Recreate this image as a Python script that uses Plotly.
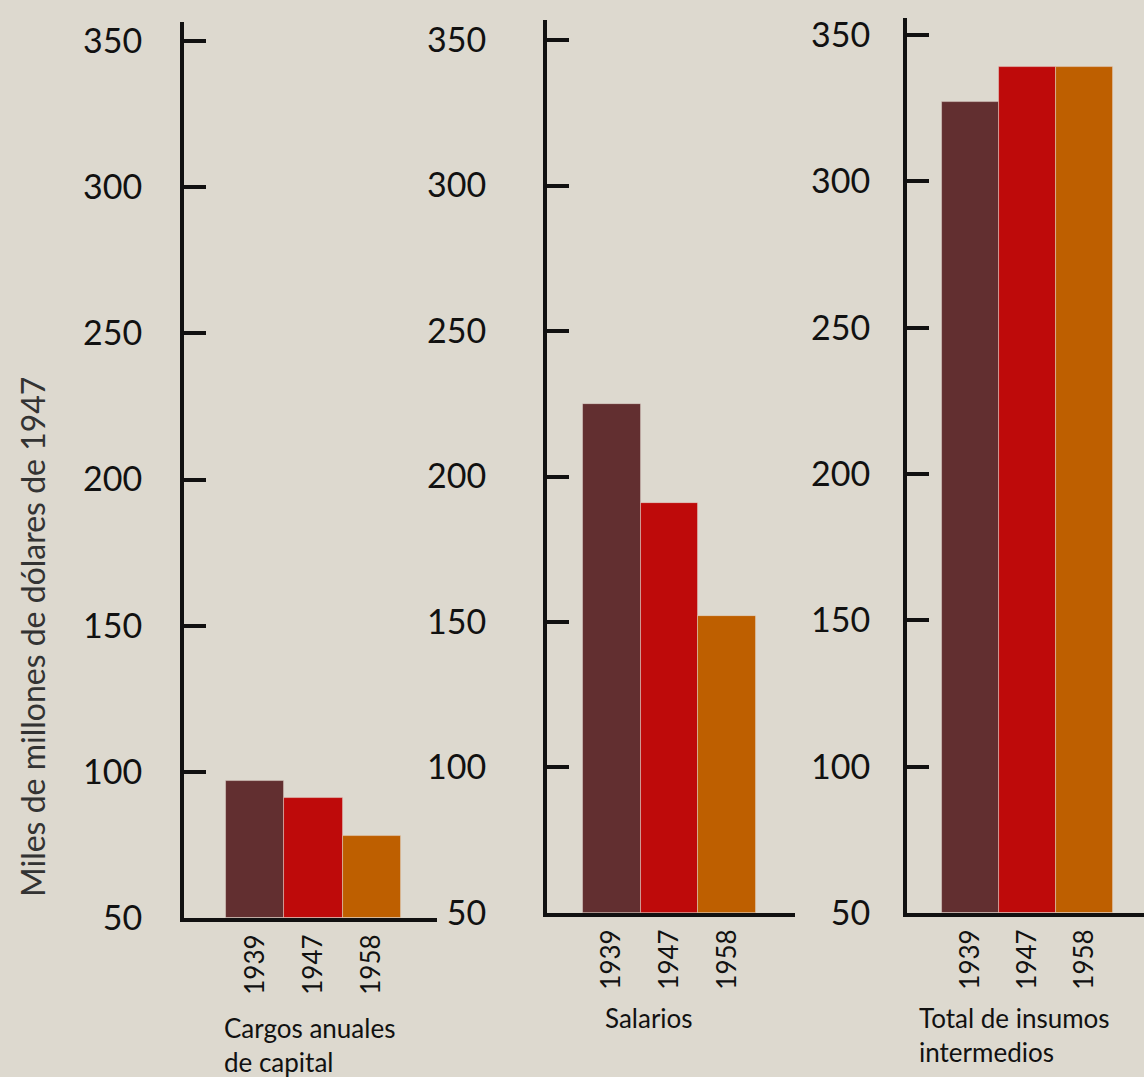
import plotly.graph_objects as go

years = ["1939", "1947", "1958"]
cargos = [97, 91, 78]
salarios = [225, 191, 152]
insumos = [327, 339, 339]
bar_colors = ["#622F30", "#BE0A0A", "#BE5F00"]
tick_vals = [50, 100, 150, 200, 250, 300, 350]
panel_titles = ["Cargos anuales<br>de capital", "Salarios", "Total de insumos<br>intermedios"]
y_title = "Miles de millones de dólares de 1947"

FONT = "Lato"
BG = "#DDD9CF"
INK = "#111111"

fig = go.Figure()

series = [cargos, salarios, insumos]
x_domains = [[0.1608, 0.382], [0.4781, 0.6949], [0.7928, 1.0]]
y_domains = [[0.1476, 0.9796], [0.1523, 0.9814], [0.1523, 0.9833]]
x_ranges = [[-1.22, 3.12], [-1.124, 3.176], [-1.114, 3.044]]
y_ranges = [[50, 356.5], [50, 356.9], [50, 355.8]]
standoffs = [31, 50, 26]

for i, vals in enumerate(series):
    n = "" if i == 0 else str(i + 1)
    fig.add_trace(go.Bar(
        x=years, y=[v - 50 for v in vals], base=50,
        marker=dict(color=bar_colors, line=dict(width=0.8, color="rgba(230,220,210,0.6)")),
        width=1.0,
        xaxis="x" + n, yaxis="y" + n, showlegend=False,
        hovertemplate="%{x}: %{y}<extra></extra>",
    ))
    fig.update_layout(**{
        "xaxis" + n: dict(
            domain=x_domains[i], anchor="y" + n, type="category",
            range=x_ranges[i], showline=True, linewidth=4, linecolor=INK,
            showgrid=False, zeroline=False, ticks="", tickangle=-90,
            tickfont=dict(family=FONT, size=26, color=INK),
            ticklabelstandoff=2, fixedrange=True, automargin=False,
        ),
        "yaxis" + n: dict(
            domain=y_domains[i], anchor="x" + n, range=y_ranges[i],
            tickvals=tick_vals, showline=True, linewidth=4, linecolor=INK,
            showgrid=False, zeroline=False, ticks="inside", ticklen=22,
            tickwidth=4, tickcolor=INK,
            tickfont=dict(family=FONT, size=34, color=INK),
            ticklabelstandoff=standoffs[i], fixedrange=True, automargin=False,
        ),
    })

title_pos = [(222 / 1144, 1 - 1010 / 1077), (603 / 1144, 1 - 1000 / 1077), (917 / 1144, 1 - 1000 / 1077)]
for t, (px, py) in zip(panel_titles, title_pos):
    fig.add_annotation(
        text=t, xref="paper", yref="paper", x=px, y=py,
        xanchor="left", yanchor="top", align="left", showarrow=False,
        font=dict(family=FONT, size=26, color=INK),
    )

fig.add_annotation(
    text=y_title, xref="paper", yref="paper", x=32 / 1144, y=1 - 637 / 1077,
    xanchor="center", yanchor="middle", textangle=-90, showarrow=False,
    font=dict(family=FONT, size=32, color="#333333"),
)

fig.update_layout(
    width=1144, height=1077,
    margin=dict(l=0, r=0, t=0, b=0, pad=0, autoexpand=False),
    paper_bgcolor=BG, plot_bgcolor=BG,
    bargap=0,
    font=dict(family=FONT, color=INK),
)

fig.write_html("out.html", config={"displayModeBar": False})
